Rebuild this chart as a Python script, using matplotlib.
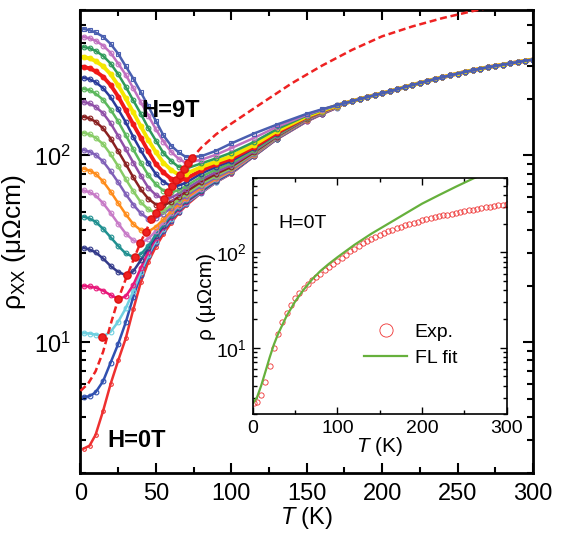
import numpy as np
import matplotlib as mpl
import matplotlib.pyplot as plt
from matplotlib.ticker import LogLocator, MultipleLocator, NullFormatter

mpl.rcParams['font.family'] = ['Liberation Sans', 'DejaVu Sans']
mpl.rcParams['mathtext.fontset'] = 'custom'
mpl.rcParams['mathtext.rm'] = 'Liberation Sans'
mpl.rcParams['mathtext.it'] = 'Liberation Sans:italic'
mpl.rcParams['mathtext.bf'] = 'Liberation Sans:bold'

# temperature grid for the field sweeps (each curve separately up to 170 K)
T_low = [2, 6, 10, 15, 20, 25, 30, 35, 40, 45, 50, 55, 60, 65, 70, 80, 90, 100, 115, 130,
         150, 160, 170]

# high-T part, where all field curves fall on top of each other
T_tail = [175, 180, 185, 190, 195, 200, 205, 210, 215, 220, 225, 230, 235, 240, 245, 250,
          255, 260, 265, 270, 275, 280, 285, 290, 295, 300]
rho_tail = [190, 195, 200, 205, 210, 215, 220, 226, 232, 238, 244, 250, 256, 262, 268, 274,
            280, 285, 291, 296, 301, 306, 311, 316, 321, 326]

fields = [0, 0.5, 1, 1.5, 2, 2.5, 3, 3.5, 4, 4.5, 5, 5.5, 6, 6.5, 7, 7.5, 8, 8.5, 9]

rho_0T   = [2.7, 2.8, 3.2, 4.3, 6.0, 8.0, 10.5, 15.0, 21.0, 27.0, 32.5, 38.0, 43.5, 49.0, 54.0, 63.0, 72.0, 80.0, 99.0, 122, 152, 166, 180]
rho_05T  = [5.1, 5.15, 5.4, 6.2, 7.8, 9.8, 12.8, 17.5, 23.0, 28.8, 34.0, 39.5, 44.8, 50.0, 55.0, 63.2, 72.2, 80.3, 99.2, 122.2, 152.5, 166.5, 180.5]
rho_1T   = [11.2, 11.15, 11.0, 10.75, 11.4, 12.9, 15.2, 18.8, 23.8, 29.5, 35.0, 40.5, 45.8, 50.8, 55.6, 63.4, 72.4, 80.5, 99.4, 122.4, 153, 167, 181]
rho_15T  = [20.0, 19.9, 19.6, 18.9, 17.9, 17.1, 17.6, 20.3, 25.0, 30.5, 36.0, 41.3, 46.6, 51.5, 56.2, 64.0, 72.8, 80.8, 99.6, 122.6, 153.5, 167.3, 181]
rho_2T   = [32.0, 31.4, 30.3, 28.1, 25.6, 23.8, 22.9, 24.0, 27.5, 32.0, 37.0, 42.0, 47.3, 52.2, 56.8, 64.5, 73.2, 81.2, 99.8, 122.8, 154, 167.6, 181.3]
rho_25T  = [47.0, 46.0, 44.2, 40.5, 36.5, 32.8, 29.9, 28.65, 29.6, 32.8, 37.8, 42.8, 48.0, 52.8, 57.5, 65.0, 73.7, 81.6, 100, 123, 154.5, 168, 181.5]
rho_3T   = [65.0, 63.6, 61.1, 55.5, 49.2, 43.2, 38.2, 35.1, 34.1, 35.8, 39.5, 44.0, 49.0, 53.7, 58.3, 66.2, 74.4, 82.2, 100.5, 123.3, 155, 168.4, 181.8]
rho_35T  = [85.0, 83.0, 79.8, 72.6, 64.0, 55.6, 48.5, 42.9, 39.8, 39.2, 41.5, 45.5, 50.2, 54.8, 59.3, 67.4, 75.3, 83.0, 101, 123.7, 155.5, 168.8, 182]
rho_4T   = [107, 104.7, 100.8, 92.9, 82.2, 71.8, 62.1, 54.5, 49.0, 45.8, 46.3, 48.8, 52.3, 56.5, 60.7, 68.8, 76.5, 84.0, 101.8, 124.2, 156, 169.2, 182.3]
rho_45T  = [132, 129.5, 124.5, 115, 101.4, 87.5, 74.7, 64.4, 56.2, 51.4, 49.4, 50.5, 54.0, 58.0, 62.2, 70.4, 78.0, 85.5, 103, 125, 157, 170, 182.7]
rho_5T   = [161, 157.8, 151.6, 139.6, 123, 105.4, 90.0, 76.4, 65.8, 58.6, 54.6, 54.0, 56.5, 60.0, 64.0, 72.2, 79.8, 87.0, 104, 126, 157.5, 170.5, 183]
rho_55T  = [193, 189.7, 182, 168.3, 148.5, 127, 108.2, 91.6, 78.0, 67.2, 61.4, 58.5, 59.5, 62.3, 66.2, 74.3, 81.8, 88.8, 105.5, 127, 158, 171, 183.3]
rho_6T   = [227, 223.3, 214.5, 198.6, 175.8, 152, 128.5, 107.7, 91.4, 78.3, 70.0, 64.7, 63.7, 65.0, 68.5, 77.0, 84.2, 91.0, 107, 128, 159, 171.6, 183.6]
rho_65T  = [260, 255.8, 246.8, 229, 204.6, 176.6, 150.7, 125.6, 106.4, 91.2, 79.4, 72.3, 68.6, 69.0, 71.5, 80.0, 87.0, 93.5, 109, 130, 160, 172.3, 184]
rho_7T   = [297, 292.9, 281.9, 263.6, 237.6, 206.7, 174.6, 146.6, 124.2, 105, 90.0, 81.1, 75.0, 73.6, 75.0, 83.2, 89.8, 96.2, 111, 132, 161, 173, 184.4]
rho_75T  = [336, 331, 320, 300, 272, 237, 202, 170, 143, 121, 104, 91.4, 83.8, 79.0, 79.8, 86.7, 92.8, 99.0, 114, 135, 162, 173.8, 184.8]
rho_8T   = [380, 375, 363, 341, 310, 272, 233, 197, 167, 140, 120, 103, 93.5, 86.9, 85.1, 90.6, 96.5, 103.5, 118, 138, 163.5, 174.6, 185.2]
rho_85T  = [430, 424, 411, 387, 354, 310, 270, 229, 193, 163, 138, 118.6, 104.7, 96.2, 91.0, 94.8, 101, 109.5, 124, 142, 165, 175.5, 185.6]
rho_9T   = [475, 468, 455, 432, 395, 350, 300, 258, 218, 183, 153, 128, 113, 104, 98.0, 99.0, 106, 116, 131, 146, 167, 176.5, 186]

curves = [rho_0T, rho_05T, rho_1T, rho_15T, rho_2T, rho_25T, rho_3T, rho_35T, rho_4T, rho_45T,
          rho_5T, rho_55T, rho_6T, rho_65T, rho_7T, rho_75T, rho_8T, rho_85T, rho_9T]

colors = ['#ee3030', '#3050b0', '#70d0e0', '#e8187a', '#333a8a', '#209090', '#c77ac7', '#ff8c1a',
          '#8060b8', '#88cc66', '#8a2020', '#9050a8', '#5cb85c', '#2a3a9a', '#f01818', '#f5e600',
          '#2f9a5a', '#c070c0', '#4a5fb0']

# resistivity minima of each field curve (1 T ... 9 T)
T_min = [14, 25, 31, 36, 39.4, 43.2, 46.9, 50, 52.6, 55.3, 58, 60.7, 63.4, 66.1, 68.8, 71.3, 73.6]
rho_min = [10.7, 17.1, 22.8, 28.6, 34, 39, 45.7, 49.4, 53.7, 58.5, 63.5, 68.5, 73.5, 79, 85, 91, 96.6]

# guide line through the minima
T_guide = [0, 5, 10, 15, 20, 25, 30, 35, 40, 45, 50, 55, 60, 65, 70, 75, 80, 90, 100, 120,
           140, 160, 180, 200, 220, 240, 260, 280]
rho_guide = [5.5, 6.0, 7.0, 8.9, 12.5, 17.0, 21.8, 27.5, 34.5, 42, 49.5, 58, 67.5, 77, 88, 99,
             110, 130, 148, 190, 243, 302, 367, 434, 490, 543, 592, 638]

# zero-field data and Fermi-liquid fit for the inset
T_exp = [2] + list(range(5, 301, 5))
rho_exp = [2.6, 2.7, 3.2, 4.4, 6.5, 10.0, 14.0, 18.5, 23.0, 28.0, 33.5, 37.8, 42.0, 46.5, 51.0,
           55.5, 60.0, 65.0, 70.0, 75.5, 81.0, 88.0, 95.0, 103, 110, 118, 125, 132, 139, 146,
           152, 159, 166, 173, 180, 186, 192, 199, 205, 211, 217, 223, 228, 234, 239, 245,
           250, 255, 261, 266, 272, 277, 282, 287, 292, 297, 302, 307, 312, 317, 322]
T_fl = [0, 5, 10, 15, 20, 25, 30, 40, 50, 60, 70, 80, 90, 100, 120, 140, 160, 180, 200, 220,
        240, 260, 270]
rho_fl = [2.6, 3.0, 4.0, 5.6, 7.9, 10.8, 14.0, 21.5, 30.5, 40.5, 52, 64, 76, 89, 120, 157,
          200, 255, 325, 400, 490, 595, 650]

fig = plt.figure(figsize=(5.66, 5.35), dpi=100)
ax = fig.add_axes([0.1422, 0.1159, 0.7995, 0.8654])

for i, (rho, c) in enumerate(zip(curves, colors)):
    T = T_low + T_tail
    r = rho + rho_tail
    filled = c in ('#f01818', '#f5e600')
    mk = 's' if i == len(curves) - 1 else 'o'
    ms = 2.6 if i == 0 else 3.4
    ax.plot(T, r, '-', color=c, lw=1.8 if not filled else 2.8, zorder=2 + i * 0.01)
    ax.plot(T, r, mk, color=c, ms=ms, mew=0.8,
            mfc=c if filled else 'none', zorder=2 + i * 0.01)

ax.plot(T_guide, rho_guide, '--', color='#ee2222', lw=1.8, dashes=(2.8, 1.5), zorder=4)
ax.plot(T_min, rho_min, 'o', color='#ee2222', ms=5.2, mec='#dd1111', zorder=5)

ax.set_yscale('log')
ax.set_xlim(0, 300)
ax.set_ylim(2, 600)
ax.xaxis.set_major_locator(MultipleLocator(50))
ax.xaxis.set_minor_locator(MultipleLocator(25))
ax.yaxis.set_minor_locator(LogLocator(base=10, subs=np.arange(2, 10)))
ax.yaxis.set_minor_formatter(NullFormatter())
ax.tick_params(which='both', direction='in', top=True, right=True, width=1.5, labelsize=17)
ax.tick_params(which='major', length=7, pad=7)
ax.tick_params(which='minor', length=4)
for s in ax.spines.values():
    s.set_linewidth(2)
ax.set_xlabel(r'$\mathit{T}$ (K)', fontsize=17, labelpad=0)
ax.set_ylabel(r'ρ$_{\mathrm{XX}}$ (μΩcm)', fontsize=19, labelpad=4)

ax.text(60, 175, 'H=9T', fontsize=17, fontweight='bold', ha='center', va='center')
ax.text(37, 3.0, 'H=0T', fontsize=17, fontweight='bold', ha='center', va='center')

# inset: zero-field curve with FL fit
axi = fig.add_axes([0.4465, 0.2256, 0.4488, 0.4411])
axi.plot(T_exp, rho_exp, 'o', color='#ee3030', mfc='none', ms=3.8, mew=0.6, label='Exp.')
axi.plot(T_fl, rho_fl, '-', color='#66b03c', lw=1.6, label='FL fit')
axi.set_yscale('log')
axi.set_xlim(0, 300)
axi.set_ylim(2, 600)
axi.xaxis.set_major_locator(MultipleLocator(100))
axi.xaxis.set_minor_locator(MultipleLocator(50))
axi.yaxis.set_minor_locator(LogLocator(base=10, subs=np.arange(2, 10)))
axi.yaxis.set_minor_formatter(NullFormatter())
axi.tick_params(which='both', direction='in', top=True, right=True, width=1.0, labelsize=14)
axi.tick_params(which='major', length=5, pad=4)
axi.tick_params(which='minor', length=3)
for s in axi.spines.values():
    s.set_linewidth(1.2)
axi.set_xlabel(r'$\mathit{T}$ (K)', fontsize=15, labelpad=-1)
axi.set_ylabel('ρ (μΩcm)', fontsize=15, labelpad=0)
axi.text(0.1, 0.79, 'H=0T', transform=axi.transAxes, fontsize=14)
leg = axi.legend(loc='upper left', bbox_to_anchor=(0.37, 0.46), frameon=False, fontsize=14,
                 handlelength=2.2, handletextpad=0.4, labelspacing=0.45, markerscale=2.5)

fig.savefig('out.png', dpi=100)
